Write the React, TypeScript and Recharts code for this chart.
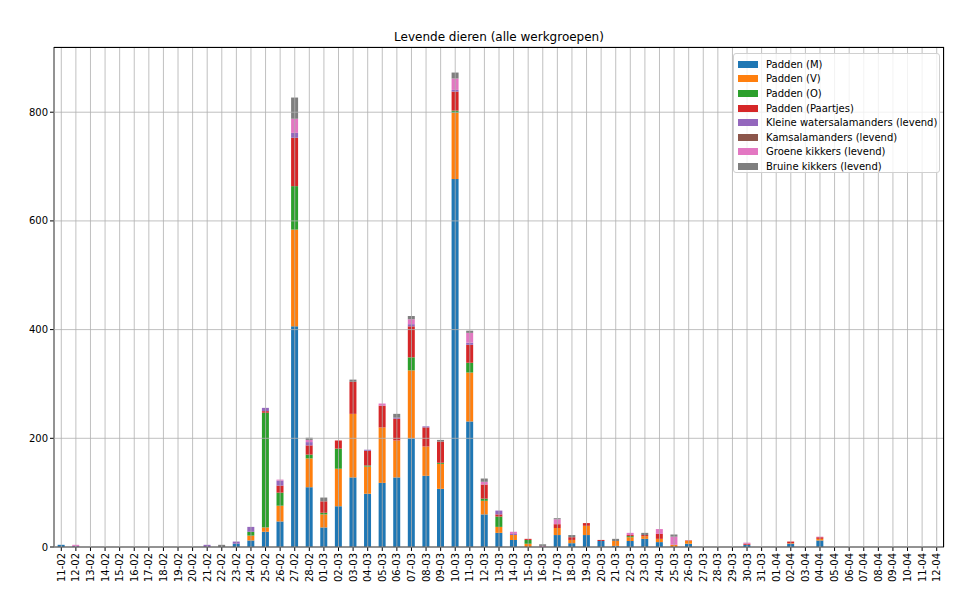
import React from 'react';
import { BarChart, Bar, XAxis, YAxis, CartesianGrid } from 'recharts';

const dates = [
  '11-02', '12-02', '13-02', '14-02', '15-02', '16-02', '17-02', '18-02', '19-02', '20-02',
  '21-02', '22-02', '23-02', '24-02', '25-02', '26-02', '27-02', '28-02', '01-03', '02-03',
  '03-03', '04-03', '05-03', '06-03', '07-03', '08-03', '09-03', '10-03', '11-03', '12-03',
  '13-03', '14-03', '15-03', '16-03', '17-03', '18-03', '19-03', '20-03', '21-03', '22-03',
  '23-03', '24-03', '25-03', '26-03', '27-03', '28-03', '29-03', '30-03', '31-03', '01-04',
  '02-04', '03-04', '04-04', '05-04', '06-04', '07-04', '08-04', '09-04', '10-04', '11-04',
  '12-04',
];

const paddenM = [
  4, 0, 0, 0, 0, 0, 0, 0, 0, 0,
  0, 0, 6, 12, 28, 47, 406, 110, 36, 75,
  128, 98, 118, 128, 200, 131, 107, 677, 231, 60,
  26, 13, 0, 0, 22, 7, 22, 11, 2, 11,
  15, 9, 0, 6, 0, 0, 0, 4, 0, 0,
  6, 0, 12, 0, 0, 0, 0, 0, 0, 0,
  0,
];
const paddenV = [
  0, 0, 0, 0, 0, 0, 0, 0, 0, 0,
  0, 0, 0, 9, 8, 29, 178, 53, 24, 69,
  117, 50, 102, 68, 125, 54, 46, 122, 90, 25,
  11, 9, 6, 0, 13, 6, 17, 0, 9, 7,
  5, 6, 4, 5, 0, 0, 0, 0, 0, 0,
  1, 0, 3, 0, 0, 0, 0, 0, 0, 0,
  0,
];
const paddenO = [
  0, 0, 0, 0, 0, 0, 0, 0, 0, 0,
  0, 0, 0, 7, 211, 24, 80, 7, 3, 37,
  0, 2, 0, 0, 24, 0, 2, 4, 18, 4,
  19, 0, 7, 0, 0, 0, 0, 0, 0, 2,
  0, 0, 0, 0, 0, 0, 0, 0, 0, 0,
  0, 0, 0, 0, 0, 0, 0, 0, 0, 0,
  0,
];
const paddenPaartjes = [
  0, 0, 0, 0, 0, 0, 0, 0, 0, 0,
  0, 0, 0, 0, 3, 13, 89, 17, 21, 15,
  59, 27, 40, 40, 57, 35, 39, 35, 33, 26,
  4, 0, 2, 0, 7, 5, 5, 2, 0, 2,
  2, 9, 0, 1, 0, 0, 0, 2, 0, 0,
  3, 0, 3, 0, 0, 0, 0, 0, 0, 0,
  0,
];
const kleineWatersalamanders = [
  0, 2, 0, 0, 0, 0, 0, 0, 0, 0,
  4, 0, 4, 9, 6, 9, 9, 6, 0, 0,
  0, 2, 0, 2, 4, 2, 0, 3, 4, 0,
  7, 2, 0, 0, 0, 0, 0, 0, 0, 0,
  0, 0, 0, 0, 0, 0, 0, 0, 0, 0,
  0, 0, 0, 0, 0, 0, 0, 0, 0, 0,
  0,
];
const kamsalamanders = dates.map(() => 0);
const groeneKikkers = [
  0, 2, 0, 0, 0, 0, 0, 0, 0, 0,
  0, 0, 0, 0, 0, 2, 26, 4, 0, 0,
  0, 0, 4, 0, 9, 0, 0, 21, 18, 5,
  0, 4, 0, 2, 9, 0, 0, 0, 0, 4,
  0, 9, 15, 0, 0, 0, 0, 2, 0, 0,
  0, 0, 1, 0, 0, 0, 0, 0, 0, 0,
  0,
];
const bruineKikkers = [
  0, 0, 0, 0, 0, 0, 0, 0, 0, 0,
  0, 4, 0, 0, 0, 0, 39, 4, 7, 0,
  4, 0, 0, 7, 6, 0, 3, 11, 4, 6,
  0, 0, 0, 3, 2, 4, 0, 0, 4, 0,
  4, 0, 4, 0, 0, 0, 0, 0, 0, 0,
  0, 0, 0, 0, 0, 0, 0, 0, 0, 0,
  0,
];

const yTicks = [0, 200, 400, 600, 800];

const series = [
  { key: 'm', name: 'Padden (M)', values: paddenM, color: '#1f77b4' },
  { key: 'v', name: 'Padden (V)', values: paddenV, color: '#ff7f0e' },
  { key: 'o', name: 'Padden (O)', values: paddenO, color: '#2ca02c' },
  { key: 'p', name: 'Padden (Paartjes)', values: paddenPaartjes, color: '#d62728' },
  { key: 'kw', name: 'Kleine watersalamanders (levend)', values: kleineWatersalamanders, color: '#9467bd' },
  { key: 'ks', name: 'Kamsalamanders (levend)', values: kamsalamanders, color: '#8c564b' },
  { key: 'gk', name: 'Groene kikkers (levend)', values: groeneKikkers, color: '#e377c2' },
  { key: 'bk', name: 'Bruine kikkers (levend)', values: bruineKikkers, color: '#7f7f7f' },
];

const data = dates.map((d, i) => {
  const row: any = { date: d };
  series.forEach((s) => { row[s.key] = s.values[i]; });
  return row;
});

const font = '"DejaVu Sans", sans-serif';

const DateTick = (props: any) => {
  const { x, y, payload } = props;
  return (
    <text
      transform={`translate(${x},${y}) rotate(-90)`}
      textAnchor="end"
      dominantBaseline="central"
      fontSize={10}
      fontFamily={font}
      fill="#000"
    >
      {payload.value}
    </text>
  );
};

export default function App() {
  return (
    <div style={{ position: 'absolute', left: 0, top: 0, width: 953, height: 602, background: '#fff', fontFamily: font }}>
      <div style={{ position: 'absolute', left: 54, width: 890, top: 30, textAlign: 'center', fontSize: 12, color: '#000' }}>
        Levende dieren (alle werkgroepen)
      </div>
      <BarChart
        width={953}
        height={602}
        data={data}
        margin={{ top: 47, right: 9, bottom: 10, left: 8 }}
        barCategoryGap="25%"
      >
        <XAxis
          dataKey="date"
          interval={0}
          height={45}
          tick={<DateTick />}
          tickSize={4}
          tickMargin={2}
          axisLine={{ stroke: '#000' }}
          tickLine={{ stroke: '#000' }}
        />
        <YAxis
          width={46}
          domain={[0, 920]}
          ticks={yTicks}
          interval={0}
          tickSize={4}
          tickMargin={2}
          tick={{ fontSize: 10, fill: '#000', fontFamily: font }}
          axisLine={{ stroke: '#000' }}
          tickLine={{ stroke: '#000' }}
        />
        {series.map((s) => (
          <Bar key={s.key} dataKey={s.key} name={s.name} stackId="a" fill={s.color} isAnimationActive={false} />
        ))}
        <CartesianGrid stroke="#b0b0b0" strokeWidth={0.8} zIndex={500} />
      </BarChart>
      <div style={{ position: 'absolute', left: 54, top: 47, width: 890, height: 500, borderTop: '1px solid #000', borderRight: '1px solid #000', boxSizing: 'border-box', pointerEvents: 'none' }} />
      <div
        style={{
          position: 'absolute', left: 733, top: 53, width: 207, height: 120, boxSizing: 'border-box',
          background: 'rgba(255,255,255,0.8)', border: '1px solid #d0d0d0', borderRadius: 3,
          padding: '3px 0 0 4px', fontSize: 10, color: '#000',
        }}
      >
        {series.map((s) => (
          <div key={s.key} style={{ display: 'flex', alignItems: 'center', height: 14.6 }}>
            <span style={{ display: 'inline-block', width: 20, height: 7, background: s.color, marginRight: 8 }} />
            <span>{s.name}</span>
          </div>
        ))}
      </div>
    </div>
  );
}
